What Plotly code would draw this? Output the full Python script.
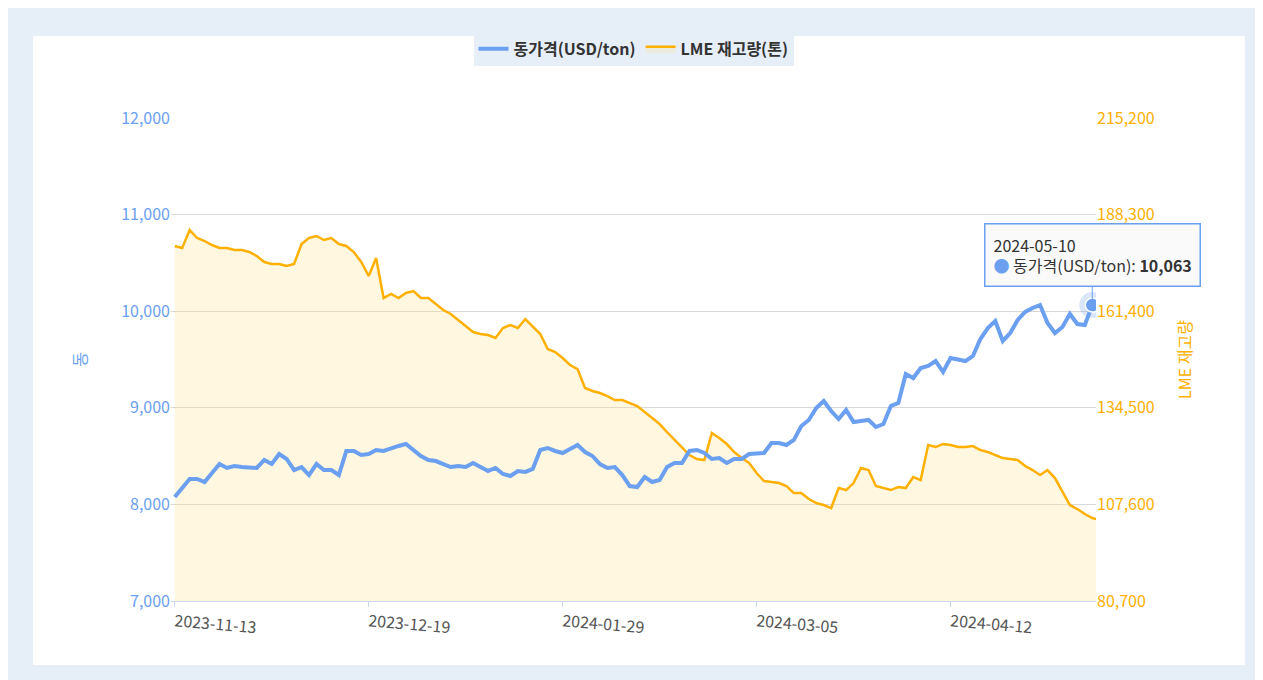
import plotly.graph_objects as go

# 동가격 (USD/ton), daily, 2023-11-13 .. 2024-05-10
copper_price = [
    8077, 8170, 8263, 8263, 8232, 8325, 8418, 8377, 8398, 8387,
    8377, 8377, 8460, 8418, 8522, 8470, 8356, 8387, 8304, 8418,
    8356, 8356, 8304, 8553, 8553, 8511, 8522, 8563, 8553, 8584,
    8605, 8625, 8563, 8501, 8460, 8449, 8418, 8387, 8398, 8387,
    8429, 8387, 8346, 8377, 8315, 8294, 8346, 8336, 8367, 8563,
    8584, 8553, 8532, 8574, 8615, 8542, 8501, 8418, 8377, 8387,
    8304, 8190, 8180, 8284, 8232, 8253, 8387, 8429, 8429, 8553,
    8563, 8532, 8470, 8480, 8429, 8470, 8470, 8522, 8522, 8532,
    8636, 8636, 8615, 8667, 8812, 8874, 8998, 9070, 8967, 8884,
    8977, 8853, 8863, 8874, 8801, 8832, 9019, 9050, 9350, 9308,
    9412, 9433, 9484, 9371, 9516, 9495, 9484, 9536, 9712, 9826,
    9898, 9692, 9774, 9909, 9992, 10033, 10064, 9878, 9774, 9836,
    9971, 9867, 9857, 10063,
]

# LME 재고량 (톤)
lme_stock = [
    179552, 178995, 184008, 181780, 180944, 179830, 178995, 178995, 178438, 178438,
    177881, 176767, 175096, 174539, 174539, 173982, 174539, 180109, 181780, 182337,
    181223, 181780, 180109, 179552, 177881, 175096, 171197, 176210, 165070, 166184,
    165070, 166462, 167019, 165070, 165070, 163399, 161728, 160614, 158943, 157272,
    155601, 155044, 154765, 153930, 156715, 157550, 156715, 159221, 157272, 155044,
    150866, 150031, 148360, 146410, 145296, 140005, 139169, 138612, 137777, 136663,
    136663, 135827, 134992, 133321, 131650, 129979, 127751, 125523, 123295, 121345,
    120231, 119953, 127472, 126080, 124409, 122181, 120510, 119117, 116332, 114104,
    113826, 113547, 112712, 110762, 110762, 109091, 107977, 107420, 106585, 112155,
    111598, 113547, 117725, 117168, 112712, 112155, 111598, 112433, 112155, 115218,
    114383, 124130, 123573, 124409, 124130, 123573, 123573, 123852, 122738, 122181,
    121345, 120510, 120231, 119953, 118282, 117168, 115775, 117168, 114940, 111319,
    107420, 106306, 104914, 103800, 103243,
]

tick_idx = [0, 26, 52, 78, 104]
tick_dates = ["2023-11-13", "2023-12-19", "2024-01-29", "2024-03-05", "2024-04-12"]

BLUE = "#6b9ff0"
ORANGE = "#ffb000"

fig = go.Figure()

# stock on y (drawn first, right side), price on y2 (on top, left side)
fig.add_trace(go.Scatter(
    x=list(range(len(lme_stock))), y=lme_stock, name="LME 재고량(톤)",
    mode="lines", line=dict(color=ORANGE, width=2.5),
    fill="tozeroy", fillcolor="rgba(255,224,130,0.25)",
))
fig.add_trace(go.Scatter(
    x=list(range(len(copper_price))), y=copper_price, name="동가격(USD/ton)",
    mode="lines", line=dict(color=BLUE, width=4), yaxis="y2",
))
last = len(copper_price) - 1
# highlighted hover point
fig.add_trace(go.Scatter(
    x=[last], y=[copper_price[-1]], mode="markers", showlegend=False, yaxis="y2",
    marker=dict(size=26, color="rgba(107,159,240,0.25)"),
))
fig.add_trace(go.Scatter(
    x=[last], y=[copper_price[-1]], mode="markers", showlegend=False, yaxis="y2",
    marker=dict(size=14, color=BLUE, line=dict(color="white", width=1.5)),
))

fig.add_annotation(
    x=last, y=copper_price[-1], xref="x", yref="y2",
    text="2024-05-10<br><span style='color:#6b9ff0'>●</span> 동가격(USD/ton): <b>10,063</b>",
    showarrow=True, arrowhead=0, arrowcolor=BLUE, ax=0, ay=-50,
    align="left", bgcolor="rgba(250,250,250,0.95)", bordercolor=BLUE,
    borderwidth=1.5, borderpad=8, font=dict(size=16, color="#333"),
)

# card background
fig.add_shape(type="rect", xref="paper", yref="paper", layer="below",
              x0=(25 - 163) / 925, x1=(1237 - 163) / 925,
              y0=(593 - 657) / 483, y1=(593 - 28) / 483,
              fillcolor="white", line=dict(width=0))

fig.update_layout(
    width=1263, height=680,
    paper_bgcolor="#e6eef8", plot_bgcolor="white",
    margin=dict(l=163, r=175, t=110, b=87, autoexpand=False),
    font=dict(family="Noto Sans CJK KR, Noto Sans", size=16),
    legend=dict(orientation="h", x=0.5, xanchor="center",
                yref="container", y=0.965, yanchor="top",
                font=dict(size=16, color="#333", weight="bold"), traceorder="reversed"),
    showlegend=True,
    xaxis=dict(tickvals=tick_idx, ticktext=tick_dates, tickangle=5,
               range=[-0.5, last + 0.5], showgrid=False, zeroline=False,
               showline=True, linecolor="#ccd6eb", ticks="outside", tickcolor="#ccd6eb",
               tickfont=dict(size=16, color="#555")),
    yaxis2=dict(overlaying="y", side="left", range=[7000, 12000], dtick=1000,
                tickformat=",", showgrid=False, zeroline=False,
                tickfont=dict(size=16, color=BLUE),
                title=dict(text="동", font=dict(color=BLUE, size=16), standoff=30)),
    yaxis=dict(side="right", range=[80700, 215200],
               tickvals=[80700, 107600, 134500, 161400, 188300, 215200],
               tickformat=",", gridcolor="#d8d8d8", zeroline=False,
               tickfont=dict(size=16, color=ORANGE),
               title=dict(text="LME 재고량", font=dict(color=ORANGE, size=16), standoff=25)),
)

fig.write_html("out.html")
